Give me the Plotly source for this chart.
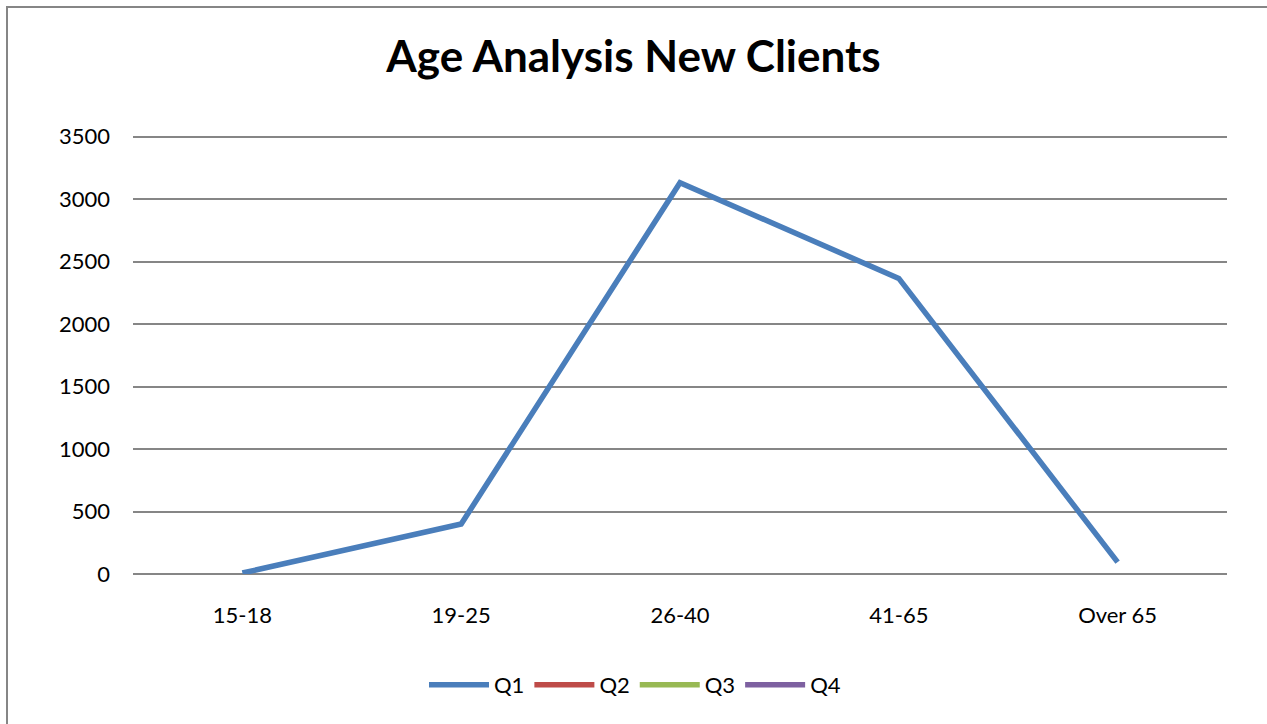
import plotly.graph_objects as go

categories = ["15-18", "19-25", "26-40", "41-65", "Over 65"]
q1 = [8, 400, 3130, 2365, 95]
q2 = [None, None, None, None, None]
q3 = [None, None, None, None, None]
q4 = [None, None, None, None, None]
y_ticks = [0, 500, 1000, 1500, 2000, 2500, 3000, 3500]

series = [("Q1", q1, "#4A7EBB"), ("Q2", q2, "#BE4B48"), ("Q3", q3, "#98B954"), ("Q4", q4, "#7D60A0")]

fig = go.Figure()
for name, vals, col in series:
    fig.add_trace(go.Scatter(x=categories, y=vals, name=name, mode="lines",
                             line=dict(color=col, width=5.5), connectgaps=False))

W, H = 1267, 724
L, R, T, B = 133, 40, 134, 150
pw, ph = W - L - R, H - T - B

def px_x(p):
    return (p - L) / pw

def px_y(p):
    return (H - B - p) / ph

fig.update_layout(
    width=W, height=H,
    margin=dict(l=L, r=R, t=T, b=B, autoexpand=False),
    paper_bgcolor="white", plot_bgcolor="white",
    font=dict(family="Lato", size=22, color="black"),
    title=dict(text="<b>Age Analysis New Clients</b>", x=0.5, xanchor="center",
               y=1 - 57 / H, yanchor="middle", font=dict(family="Lato", size=44, color="black")),
    showlegend=True,
    legend=dict(orientation="h", x=px_x(635), xanchor="center", y=px_y(685), yanchor="middle",
                font=dict(size=22), itemwidth=60, tracegroupgap=0),
    xaxis=dict(type="category", range=[-0.5, 4.5], showgrid=False, showline=False, zeroline=False,
               ticks="", ticklabelstandoff=26, fixedrange=True, automargin=False),
    yaxis=dict(range=[0, 3520], tickvals=y_ticks, showgrid=True, gridcolor="#868686", gridwidth=1.5,
               zeroline=True, zerolinecolor="#868686", zerolinewidth=2, showline=False,
               ticks="", ticklabelstandoff=22, fixedrange=True, automargin=False),
    shapes=[dict(type="rect", xref="paper", yref="paper",
                 x0=px_x(7), x1=px_x(W + 10), y0=px_y(H + 10), y1=px_y(7),
                 line=dict(color="#868686", width=2), fillcolor="rgba(0,0,0,0)", layer="below")],
)

fig.write_html("out.html", config={"displayModeBar": False},
               post_script="document.body.style.margin='0';document.body.style.overflow='hidden';")
